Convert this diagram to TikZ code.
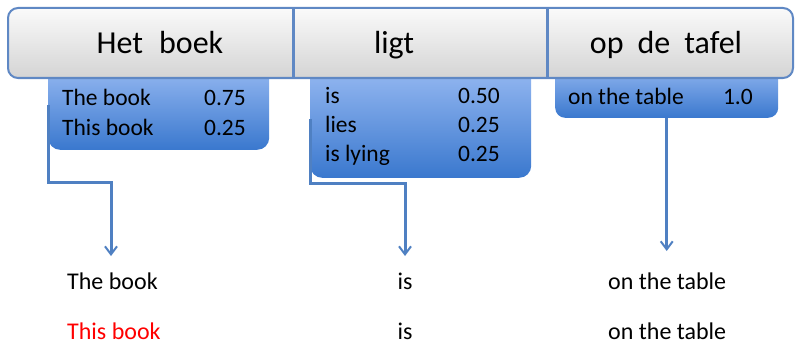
\documentclass[tikz,border=0pt]{standalone}
\usepackage{fontspec}
\setmainfont{Carlito}
\usetikzlibrary{arrows.meta,calc}
\definecolor{barline}{HTML}{5F88C4}
\definecolor{bartop}{HTML}{FAFAFA}
\definecolor{barbot}{HTML}{D4D4D4}
\definecolor{boxtop}{HTML}{9CBDF4}
\definecolor{boxbot}{HTML}{3A78CE}
\definecolor{connblue}{HTML}{4F80C2}
\tikzset{
  blubox/.style={top color=boxtop, bottom color=boxbot, rounded corners=12pt,
    inner sep=0pt, draw=none},
  head/.style={font=\fontsize{32}{38}\selectfont, inner sep=0pt, anchor=base},
  cell/.style={font=\fontsize{23.5}{28}\selectfont, inner sep=0pt},
  conn/.style={draw=connblue, line width=3pt,
    -{Straight Barb[length=8pt,width=12pt,line width=2pt]}},
  sentword/.style={font=\fontsize{24}{28}\selectfont, inner sep=0pt, anchor=base west},
}
\begin{document}
\begin{tikzpicture}[x=1pt,y=-1pt]
\useasboundingbox (0,0) rectangle (795,345);

% phrase-table boxes, their tops tucked under the bar
\node[blubox, anchor=south west, minimum width=221pt, minimum height=90pt] (b1) at (48,150) {};
\node[blubox, anchor=south west, minimum width=221pt, minimum height=118pt] (b2) at (310,178) {};
\node[blubox, anchor=south west, minimum width=223pt, minimum height=58pt, rounded corners=10pt] (b3) at (555,118) {};

% source-sentence bar
\shade[top color=bartop, bottom color=barbot, draw=barline, line width=2pt, rounded corners=10pt]
  (8,8) rectangle (793,78);
\draw[barline, line width=3pt] (293,8) -- (293,78);
\draw[barline, line width=3pt] (547,8) -- (547,78);
\node[head] (h1) at (160,54) {Het\hspace{16pt}boek};
\node[head] (h2) at (394,54) {ligt};
\node[head] (h3) at (666,54) {op\hspace{14pt}de\hspace{14pt}tafel};

% translation options with probabilities
\node[cell, anchor=base west] (p11) at (62,106) {The book};
\node[cell, anchor=base east] (q11) at (246,106) {0.75};
\node[cell, anchor=base west] (p12) at (62,135) {This book};
\node[cell, anchor=base east] (q12) at (246,135) {0.25};

\node[cell, anchor=base west] (p21) at (325,103) {is};
\node[cell, anchor=base east] (q21) at (500,103) {0.50};
\node[cell, anchor=base west] (p22) at (325,132) {lies};
\node[cell, anchor=base east] (q22) at (500,132) {0.25};
\node[cell, anchor=base west] (p23) at (325,161) {is lying};
\node[cell, anchor=base east] (q23) at (500,161) {0.25};

\node[cell, anchor=base west] (p31) at (568,104) {on the table};
\node[cell, anchor=base east] (q31) at (753,104) {1.0};

% output sentences
\node[sentword] (t1) at (67,289) {The book};
\node[sentword, anchor=base] (t2) at (405,289) {is};
\node[sentword] (t3) at (608,289) {on the table};
\node[sentword, text=red] (u1) at (67,339) {This book};
\node[sentword, anchor=base] (u2) at (405,339) {is};
\node[sentword] (u3) at (608,339) {on the table};

% connectors
\coordinate (k1) at (111,182);
\coordinate (k2) at (405,183);
\draw[conn] (b1.west) |- (k1) -- (k1 |- 0,256);
\draw[conn] (b2.west) |- (k2) -- (k2 |- 0,256);
\draw[conn] (b3.south) -- (b3.south |- 0,251);
\end{tikzpicture}
\end{document}
